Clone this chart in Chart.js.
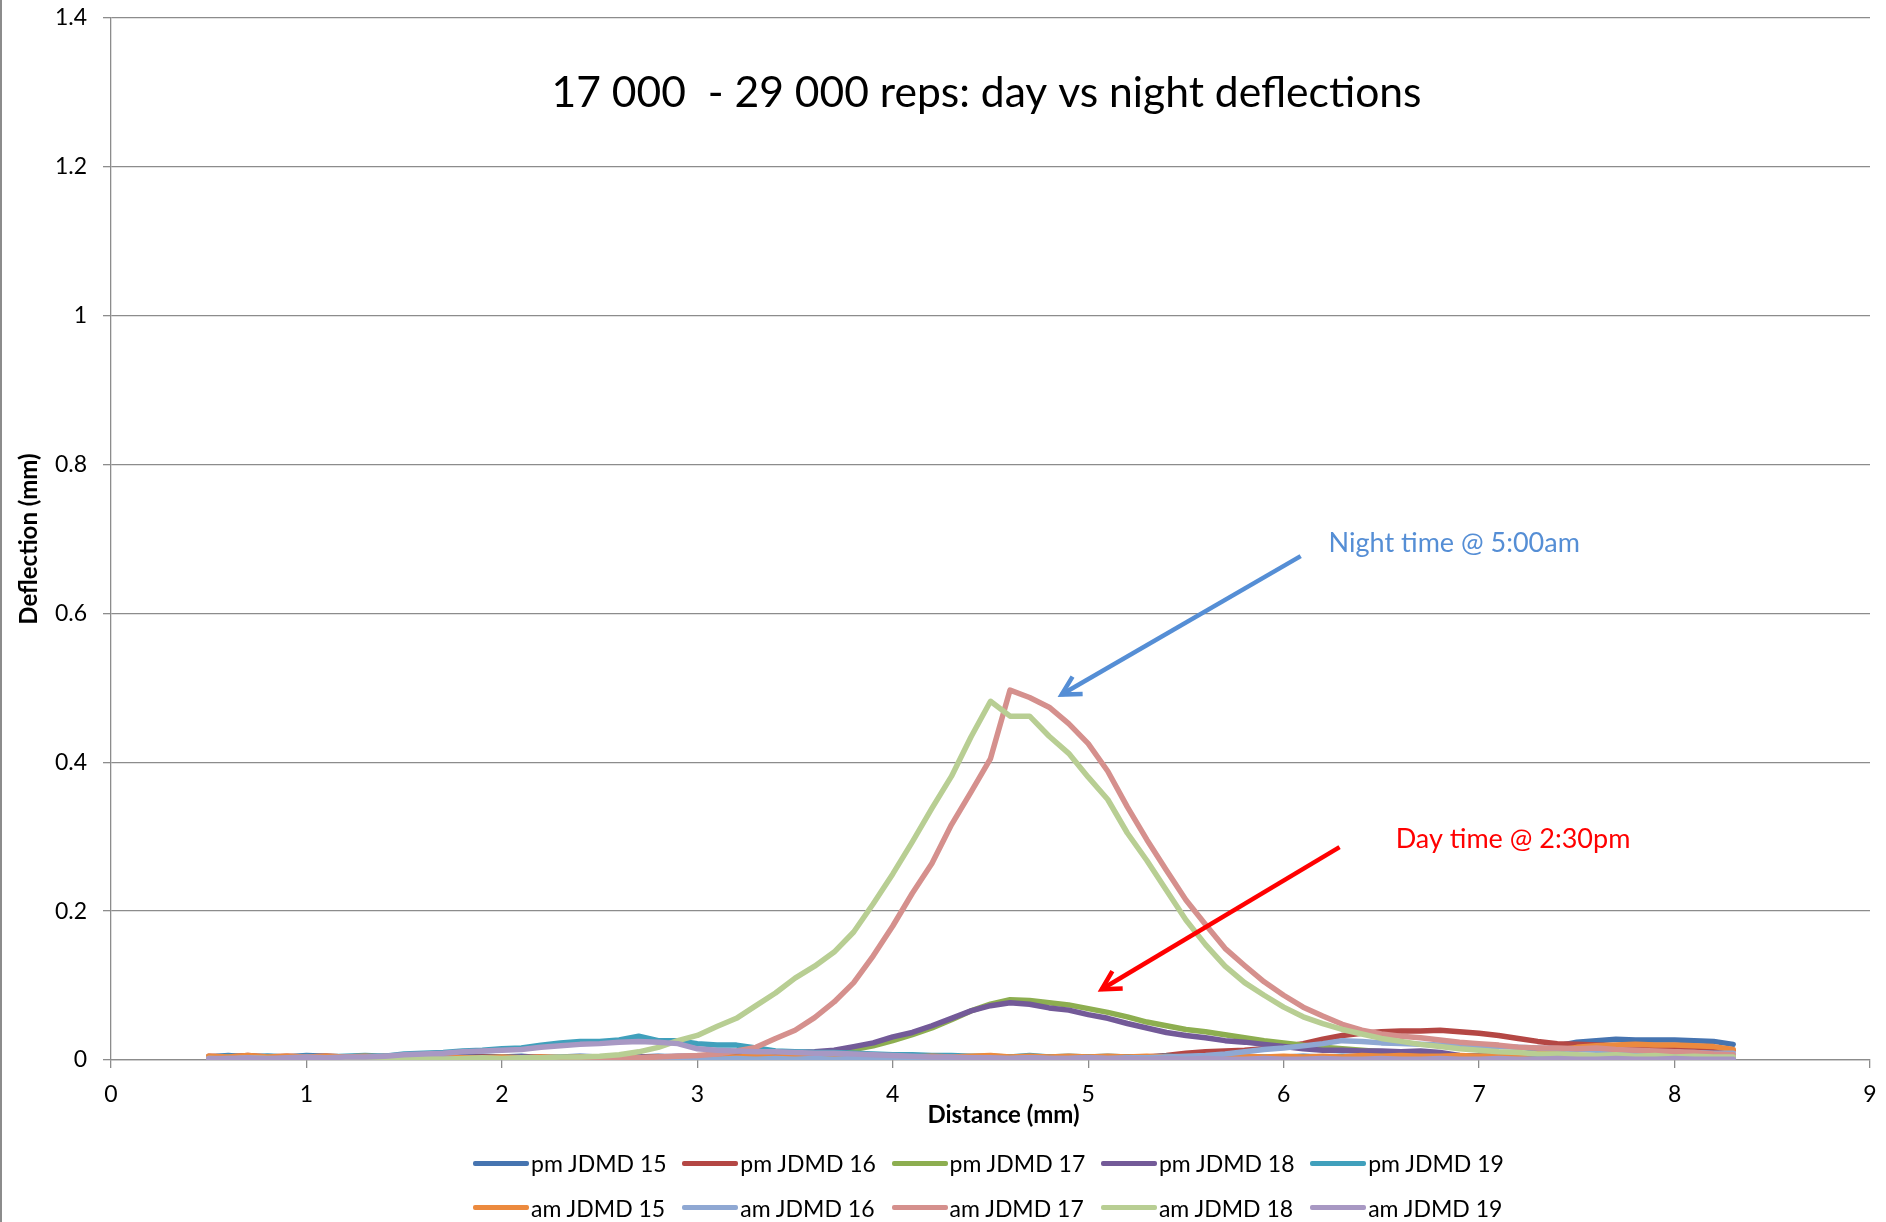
<!DOCTYPE html>
<html>
<head>
<meta charset="utf-8">
<title>17 000 - 29 000 reps: day vs night deflections</title>
<script src="https://cdn.jsdelivr.net/npm/chart.js@4.4.1/dist/chart.umd.min.js"></script>
<style>
  html, body { margin: 0; padding: 0; background: #fff; }
  #wrap { position: relative; width: 1886px; height: 1222px; overflow: hidden; }
  #chart { position: absolute; left: 0; top: 0; }
  #edge { position: absolute; left: 0; top: 0; width: 2px; height: 1222px; background: #8c8c8c; }
  #legend {
    position: absolute; left: 473px; top: 1141px;
    display: grid; grid-template-columns: repeat(5, 209.3px); grid-auto-rows: 44.6px;
    font-family: Lato, "Open Sans", sans-serif; font-size: 23px; color: #000;
  }
  #legend .item { display: flex; align-items: center; white-space: nowrap; }
  #legend .swatch { display: inline-block; width: 56px; height: 5px; border-radius: 2px; margin-right: 2px; }
</style>
</head>
<body>
<div id="wrap">
  <canvas id="chart" width="1886" height="1222"></canvas>
  <div id="edge"></div>
  <div id="legend"></div>
</div>
<script>
const FONT = 'Lato, "Open Sans", sans-serif';
const GRID = '#8c8c8c';

// distance along the profile (mm)
const distance = [
  0.5, 0.6, 0.7, 0.8, 0.9, 1.0, 1.1, 1.2, 1.3, 1.4,
  1.5, 1.6, 1.7, 1.8, 1.9, 2.0, 2.1, 2.2, 2.3, 2.4,
  2.5, 2.6, 2.7, 2.8, 2.9, 3.0, 3.1, 3.2, 3.3, 3.4,
  3.5, 3.6, 3.7, 3.8, 3.9, 4.0, 4.1, 4.2, 4.3, 4.4,
  4.5, 4.6, 4.7, 4.8, 4.9, 5.0, 5.1, 5.2, 5.3, 5.4,
  5.5, 5.6, 5.7, 5.8, 5.9, 6.0, 6.1, 6.2, 6.3, 6.4,
  6.5, 6.6, 6.7, 6.8, 6.9, 7.0, 7.1, 7.2, 7.3, 7.4,
  7.5, 7.6, 7.7, 7.8, 7.9, 8.0, 8.1, 8.2, 8.3
];

// deflections (mm), one value per distance
const pmJDMD15 = [
  0.004, 0.006, 0.004, 0.005, 0.004, 0.006, 0.005, 0.004, 0.005, 0.004,
  0.005, 0.004, 0.006, 0.004, 0.005, 0.004, 0.005, 0.003, 0.004, 0.005,
  0.004, 0.003, 0.004, 0.005, 0.004, 0.003, 0.004, 0.003, 0.004, 0.003,
  0.004, 0.003, 0.004, 0.003, 0.004, 0.003, 0.004, 0.003, 0.003, 0.004,
  0.003, 0.004, 0.003, 0.004, 0.003, 0.004, 0.003, 0.004, 0.003, 0.004,
  0.003, 0.004, 0.003, 0.004, 0.003, 0.004, 0.005, 0.004, 0.005, 0.004,
  0.005, 0.004, 0.005, 0.004, 0.005, 0.005, 0.006, 0.007, 0.012, 0.019,
  0.024, 0.026, 0.028, 0.027, 0.027, 0.027, 0.026, 0.025, 0.021
];
const pmJDMD16 = [
  0.005, 0.004, 0.006, 0.004, 0.005, 0.004, 0.005, 0.004, 0.004, 0.005,
  0.004, 0.003, 0.004, 0.003, 0.004, 0.003, 0.003, 0.004, 0.003, 0.003,
  0.003, 0.002, 0.003, 0.002, 0.003, 0.002, 0.003, 0.002, 0.003, 0.002,
  0.003, 0.002, 0.003, 0.002, 0.002, 0.003, 0.002, 0.003, 0.002, 0.003,
  0.002, 0.003, 0.002, 0.003, 0.002, 0.003, 0.003, 0.004, 0.004, 0.006,
  0.009, 0.011, 0.012, 0.013, 0.015, 0.018, 0.022, 0.028, 0.033, 0.036,
  0.038, 0.039, 0.039, 0.040, 0.038, 0.036, 0.033, 0.029, 0.025, 0.022,
  0.021, 0.020, 0.019, 0.018, 0.018, 0.018, 0.016, 0.015, 0.013
];
const pmJDMD17 = [
  0.004, 0.003, 0.005, 0.003, 0.004, 0.003, 0.004, 0.003, 0.004, 0.003,
  0.003, 0.004, 0.003, 0.002, 0.003, 0.003, 0.002, 0.003, 0.002, 0.003,
  0.002, 0.003, 0.002, 0.003, 0.003, 0.004, 0.004, 0.005, 0.005, 0.006,
  0.007, 0.009, 0.011, 0.014, 0.019, 0.026, 0.034, 0.043, 0.054, 0.066,
  0.075, 0.081, 0.080, 0.077, 0.074, 0.069, 0.064, 0.058, 0.051, 0.046,
  0.041, 0.038, 0.034, 0.030, 0.026, 0.023, 0.020, 0.017, 0.015, 0.013,
  0.011, 0.009, 0.007, 0.006, 0.005, 0.005, 0.004, 0.004, 0.003, 0.004,
  0.003, 0.004, 0.003, 0.003, 0.004, 0.003, 0.003, 0.004, 0.003
];
const pmJDMD18 = [
  0.003, 0.004, 0.003, 0.004, 0.003, 0.004, 0.003, 0.004, 0.003, 0.003,
  0.004, 0.003, 0.003, 0.004, 0.003, 0.003, 0.004, 0.003, 0.003, 0.004,
  0.003, 0.003, 0.004, 0.004, 0.005, 0.005, 0.006, 0.006, 0.007, 0.008,
  0.010, 0.011, 0.013, 0.018, 0.023, 0.031, 0.037, 0.046, 0.056, 0.066,
  0.073, 0.077, 0.075, 0.070, 0.067, 0.061, 0.056, 0.049, 0.043, 0.037,
  0.033, 0.030, 0.026, 0.024, 0.021, 0.018, 0.015, 0.013, 0.013, 0.012,
  0.012, 0.011, 0.012, 0.010, 0.006, 0.005, 0.004, 0.004, 0.003, 0.003,
  0.003, 0.003, 0.004, 0.003, 0.003, 0.004, 0.003, 0.003, 0.003
];
const pmJDMD19 = [
  0.004, 0.005, 0.004, 0.005, 0.004, 0.005, 0.004, 0.005, 0.006, 0.005,
  0.008, 0.009, 0.010, 0.012, 0.013, 0.015, 0.016, 0.020, 0.023, 0.025,
  0.025, 0.027, 0.032, 0.026, 0.026, 0.022, 0.020, 0.020, 0.016, 0.012,
  0.011, 0.010, 0.010, 0.009, 0.008, 0.007, 0.007, 0.006, 0.006, 0.005,
  0.005, 0.004, 0.006, 0.004, 0.005, 0.004, 0.005, 0.004, 0.004, 0.005,
  0.004, 0.003, 0.004, 0.003, 0.004, 0.003, 0.004, 0.003, 0.004, 0.003,
  0.003, 0.004, 0.003, 0.003, 0.004, 0.003, 0.003, 0.002, 0.003, 0.002,
  0.003, 0.002, 0.003, 0.002, 0.003, 0.002, 0.003, 0.002, 0.002
];
const amJDMD15 = [
  0.005, 0.004, 0.006, 0.004, 0.005, 0.004, 0.005, 0.004, 0.005, 0.004,
  0.004, 0.003, 0.004, 0.003, 0.003, 0.004, 0.003, 0.004, 0.003, 0.004,
  0.003, 0.004, 0.003, 0.004, 0.003, 0.003, 0.004, 0.004, 0.005, 0.004,
  0.005, 0.004, 0.005, 0.006, 0.004, 0.005, 0.004, 0.005, 0.004, 0.005,
  0.006, 0.004, 0.005, 0.004, 0.005, 0.004, 0.005, 0.004, 0.005, 0.004,
  0.004, 0.005, 0.004, 0.005, 0.004, 0.005, 0.004, 0.005, 0.004, 0.006,
  0.005, 0.006, 0.005, 0.005, 0.006, 0.005, 0.006, 0.007, 0.009, 0.013,
  0.017, 0.019, 0.020, 0.021, 0.020, 0.020, 0.019, 0.018, 0.014
];
const amJDMD16 = [
  0.001, 0.002, 0.001, 0.001, 0.002, 0.001, 0.001, 0.002, 0.001, 0.001,
  0.001, 0.001, 0.002, 0.001, 0.001, 0.001, 0.002, 0.001, 0.001, 0.002,
  0.001, 0.001, 0.002, 0.001, 0.002, 0.001, 0.001, 0.002, 0.001, 0.002,
  0.001, 0.002, 0.001, 0.002, 0.001, 0.002, 0.001, 0.002, 0.002, 0.001,
  0.002, 0.002, 0.003, 0.002, 0.002, 0.003, 0.002, 0.003, 0.003, 0.004,
  0.005, 0.006, 0.008, 0.011, 0.014, 0.016, 0.019, 0.022, 0.026, 0.025,
  0.023, 0.022, 0.021, 0.020, 0.020, 0.019, 0.018, 0.017, 0.016, 0.015,
  0.014, 0.013, 0.012, 0.011, 0.011, 0.010, 0.010, 0.009, 0.009
];
const amJDMD17 = [
  0.001, 0.000, 0.001, 0.001, 0.000, 0.001, 0.001, 0.000, 0.001, 0.001,
  0.000, 0.001, 0.001, 0.000, 0.001, 0.001, 0.000, 0.001, 0.001, 0.001,
  0.001, 0.002, 0.003, 0.004, 0.005, 0.006, 0.008, 0.012, 0.017, 0.029,
  0.040, 0.057, 0.078, 0.104, 0.140, 0.180, 0.224, 0.264, 0.316, 0.360,
  0.405, 0.497, 0.487, 0.474, 0.452, 0.425, 0.388, 0.340, 0.296, 0.255,
  0.215, 0.182, 0.150, 0.127, 0.105, 0.087, 0.071, 0.059, 0.048, 0.040,
  0.035, 0.032, 0.030, 0.027, 0.024, 0.022, 0.020, 0.017, 0.016, 0.016,
  0.015, 0.016, 0.014, 0.013, 0.012, 0.011, 0.010, 0.008, 0.007
];
const amJDMD18 = [
  0.002, 0.001, 0.003, 0.002, 0.001, 0.002, 0.003, 0.001, 0.002, 0.002,
  0.001, 0.002, 0.001, 0.002, 0.003, 0.002, 0.003, 0.003, 0.004, 0.004,
  0.005, 0.007, 0.011, 0.017, 0.026, 0.033, 0.045, 0.056, 0.073, 0.090,
  0.110, 0.126, 0.145, 0.172, 0.210, 0.250, 0.293, 0.338, 0.381, 0.434,
  0.482, 0.462, 0.462, 0.435, 0.412, 0.380, 0.350, 0.305, 0.268, 0.228,
  0.188, 0.155, 0.126, 0.104, 0.087, 0.071, 0.058, 0.049, 0.041, 0.035,
  0.029, 0.025, 0.021, 0.018, 0.015, 0.013, 0.011, 0.010, 0.008, 0.008,
  0.007, 0.006, 0.007, 0.005, 0.006, 0.004, 0.005, 0.004, 0.004
];
const amJDMD19 = [
  0.002, 0.002, 0.003, 0.002, 0.003, 0.004, 0.003, 0.004, 0.004, 0.005,
  0.007, 0.008, 0.009, 0.011, 0.012, 0.013, 0.014, 0.017, 0.019, 0.021,
  0.022, 0.024, 0.025, 0.024, 0.022, 0.015, 0.013, 0.012, 0.011, 0.011,
  0.010, 0.009, 0.009, 0.008, 0.007, 0.006, 0.005, 0.004, 0.004, 0.003,
  0.003, 0.002, 0.003, 0.002, 0.002, 0.003, 0.002, 0.002, 0.001, 0.002,
  0.001, 0.002, 0.001, 0.001, 0.002, 0.001, 0.001, 0.002, 0.001, 0.001,
  0.002, 0.001, 0.001, 0.002, 0.001, 0.001, 0.002, 0.001, 0.001, 0.002,
  0.001, 0.001, 0.002, 0.001, 0.001, 0.002, 0.001, 0.001, 0.001
];

const seriesLabels = [
  'pm JDMD 15', 'pm JDMD 16', 'pm JDMD 17', 'pm JDMD 18', 'pm JDMD 19',
  'am JDMD 15', 'am JDMD 16', 'am JDMD 17', 'am JDMD 18', 'am JDMD 19'
];
const seriesValues = [
  pmJDMD15, pmJDMD16, pmJDMD17, pmJDMD18, pmJDMD19,
  amJDMD15, amJDMD16, amJDMD17, amJDMD18, amJDMD19
];
const seriesColors = [
  '#4674B0', '#B44744', '#8DAE50', '#735A98', '#40A0BC',
  '#EC8A3E', '#8FA8D3', '#D5908D', '#B8CE93', '#A898C3'
];

const chartTitle = '17 000  - 29 000 reps: day vs night deflections';
const xTitle = 'Distance (mm)';

// callouts, in data units (mm, mm)
const callouts = [
  { text: 'Night time @ 5:00am', color: '#558ED5', label: [6.23, 0.694], from: [6.087, 0.677], to: [4.864, 0.491] },
  { text: 'Day time @ 2:30pm', color: '#FF0000', label: [6.573, 0.296], from: [6.286, 0.286], to: [5.069, 0.095] },
];

const overlayPlugin = {
  id: 'overlay',
  afterDraw(chart) {
    const { ctx, chartArea, scales } = chart;
    const midX = (chartArea.left + chartArea.right) / 2;
    ctx.save();
    ctx.fillStyle = '#000';
    ctx.textAlign = 'center';
    ctx.textBaseline = 'middle';
    ctx.font = `42.6px ${FONT}`;
    ctx.fillText(chartTitle, midX - 4, 93);

    // x axis title sits a little right of centre in the original
    ctx.font = `bold 24px ${FONT}`;
    ctx.fillText(xTitle, midX + 13, chartArea.bottom + 55);

    callouts.forEach(c => {
      const x0 = scales.x.getPixelForValue(c.from[0]);
      const y0 = scales.y.getPixelForValue(c.from[1]);
      const x1 = scales.x.getPixelForValue(c.to[0]);
      const y1 = scales.y.getPixelForValue(c.to[1]);
      const ang = Math.atan2(y0 - y1, x0 - x1);
      ctx.strokeStyle = c.color;
      ctx.lineWidth = 4.5;
      ctx.lineCap = 'butt';
      ctx.lineJoin = 'miter';
      ctx.beginPath();
      ctx.moveTo(x0, y0);
      ctx.lineTo(x1, y1);
      ctx.stroke();
      ctx.beginPath();
      ctx.moveTo(x1 + 21 * Math.cos(ang - 0.5), y1 + 21 * Math.sin(ang - 0.5));
      ctx.lineTo(x1, y1);
      ctx.lineTo(x1 + 21 * Math.cos(ang + 0.5), y1 + 21 * Math.sin(ang + 0.5));
      ctx.stroke();

      ctx.fillStyle = c.color;
      ctx.font = `27px ${FONT}`;
      ctx.textAlign = 'left';
      ctx.fillText(c.text, scales.x.getPixelForValue(c.label[0]), scales.y.getPixelForValue(c.label[1]));
    });
    ctx.restore();
  }
};

const n = seriesLabels.length;
const datasets = seriesLabels.map((label, i) => ({
  label,
  data: distance.map((x, j) => ({ x, y: seriesValues[i][j] })),
  borderColor: seriesColors[i],
  backgroundColor: seriesColors[i],
  order: n - i, // later series drawn on top, as in the original
}));

new Chart(document.getElementById('chart').getContext('2d'), {
  type: 'line',
  data: { datasets },
  options: {
    responsive: false,
    animation: false,
    layout: { padding: { left: 0, right: 16, top: 18, bottom: 80 } },
    elements: {
      point: { radius: 0 },
      line: { borderWidth: 5.5, tension: 0, borderJoinStyle: 'round', borderCapStyle: 'round' },
    },
    plugins: { legend: { display: false }, tooltip: { enabled: false } },
    scales: {
      x: {
        type: 'linear', min: 0, max: 9,
        ticks: { stepSize: 1, color: '#000', font: { family: FONT, size: 23 }, padding: 13 },
        grid: { drawOnChartArea: false, drawTicks: true, tickLength: 8, color: GRID, lineWidth: 1.3 },
        border: { color: GRID, width: 1.3 },
        title: { display: false },
        afterFit(scale) {
          scale.height = 82;
          scale.paddingLeft = 0;
          scale.paddingRight = 0;
        },
      },
      y: {
        min: 0, max: 1.4,
        ticks: { stepSize: 0.2, color: '#000', font: { family: FONT, size: 23 }, padding: 16,
                 callback: v => String(Number(v.toFixed(1))) },
        grid: { color: GRID, lineWidth: 1.3, tickLength: 8 },
        border: { color: GRID, width: 1.3 },
        title: { display: true, text: 'Deflection (mm)', color: '#000',
                 font: { family: FONT, size: 24, weight: 'bold' }, padding: { top: 15, bottom: 0 } },
        afterFit(scale) {
          scale.width = 111;
          scale.paddingTop = 0;
          scale.paddingBottom = 0;
        },
      },
    },
  },
  plugins: [overlayPlugin],
});

document.getElementById('legend').innerHTML = seriesLabels.map((label, i) =>
  `<div class="item"><span class="swatch" style="background:${seriesColors[i]}"></span><span>${label}</span></div>`
).join('');
</script>
</body>
</html>
